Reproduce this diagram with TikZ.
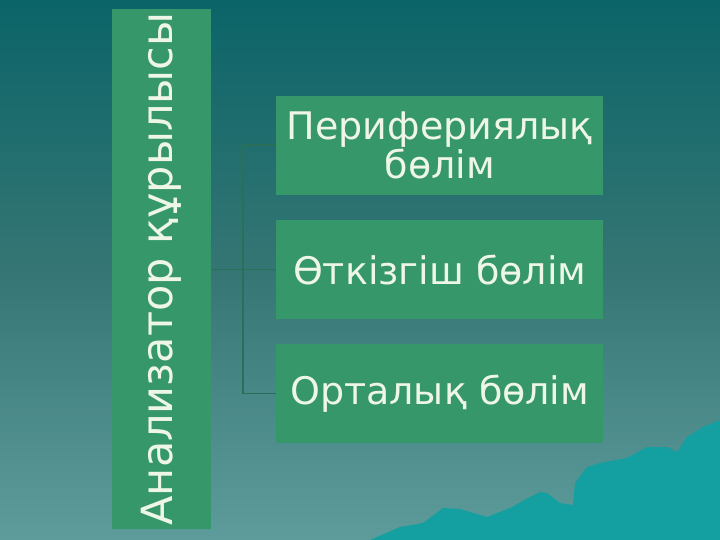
\documentclass[tikz,border=0pt]{standalone}
\usepackage{fontspec}
\setmainfont{DejaVu Sans}
\definecolor{bgtop}{HTML}{0B6468}
\definecolor{bgmid}{HTML}{357674}
\definecolor{bgbot}{HTML}{5E9C9C}
\definecolor{boxg}{HTML}{36976A}
\definecolor{txt}{HTML}{EEF6E6}
\definecolor{lnc}{HTML}{2A7058}
\definecolor{mtn}{HTML}{14A0A0}
\tikzset{
  part/.style={fill=boxg, draw=none, minimum width=327pt, minimum height=99pt, inner sep=0pt, text=txt, font=\fontsize{38}{39}\selectfont, align=center},
  conn/.style={draw=lnc, line width=1.2pt}
}
\begin{document}
\begin{tikzpicture}[x=1pt,y=-1pt]
\useasboundingbox (0,0) rectangle (720,540);
\shade[top color=bgtop, bottom color=bgbot, middle color=bgmid] (0,0) rectangle (720,540);
% mountains
\fill[mtn] (370,540) -- (400,527) -- (423,523) -- (443,508) -- (460,509) -- (487,517) -- (510,508) -- (530,497) -- (540,492) -- (547,493) -- (560,503) -- (573,505) -- (575,483) -- (587,467) -- (600,463) -- (627,458) -- (647,447) -- (667,447) -- (677,452) -- (687,437) -- (703,427) -- (720,420) -- (720,540) -- cycle;
% left box
\node[fill=boxg, minimum width=99pt, minimum height=520pt, inner sep=0pt, anchor=north west] (root) at (112,9) {};
\node[rotate=90, text=txt, font=\fontsize{43}{46}\selectfont] (roottext) at (root.center) {Анализатор құрылысы};
% right boxes
\node[part, anchor=north west] (p1) at (276,96) {Перифериялық\\бөлім};
\node[part, anchor=north west] (p2) at (276,220) {Өткізгіш бөлім};
\node[part, anchor=north west] (p3) at (276,344) {Орталық бөлім};
% connectors
\coordinate (top) at (243,145);
\draw[conn] (root.east |- p2.west) -- (p2.west);
\draw[conn] (top) |- (p3.west);
\draw[conn] (top) -- (p1.west |- top);
\end{tikzpicture}
\end{document}
